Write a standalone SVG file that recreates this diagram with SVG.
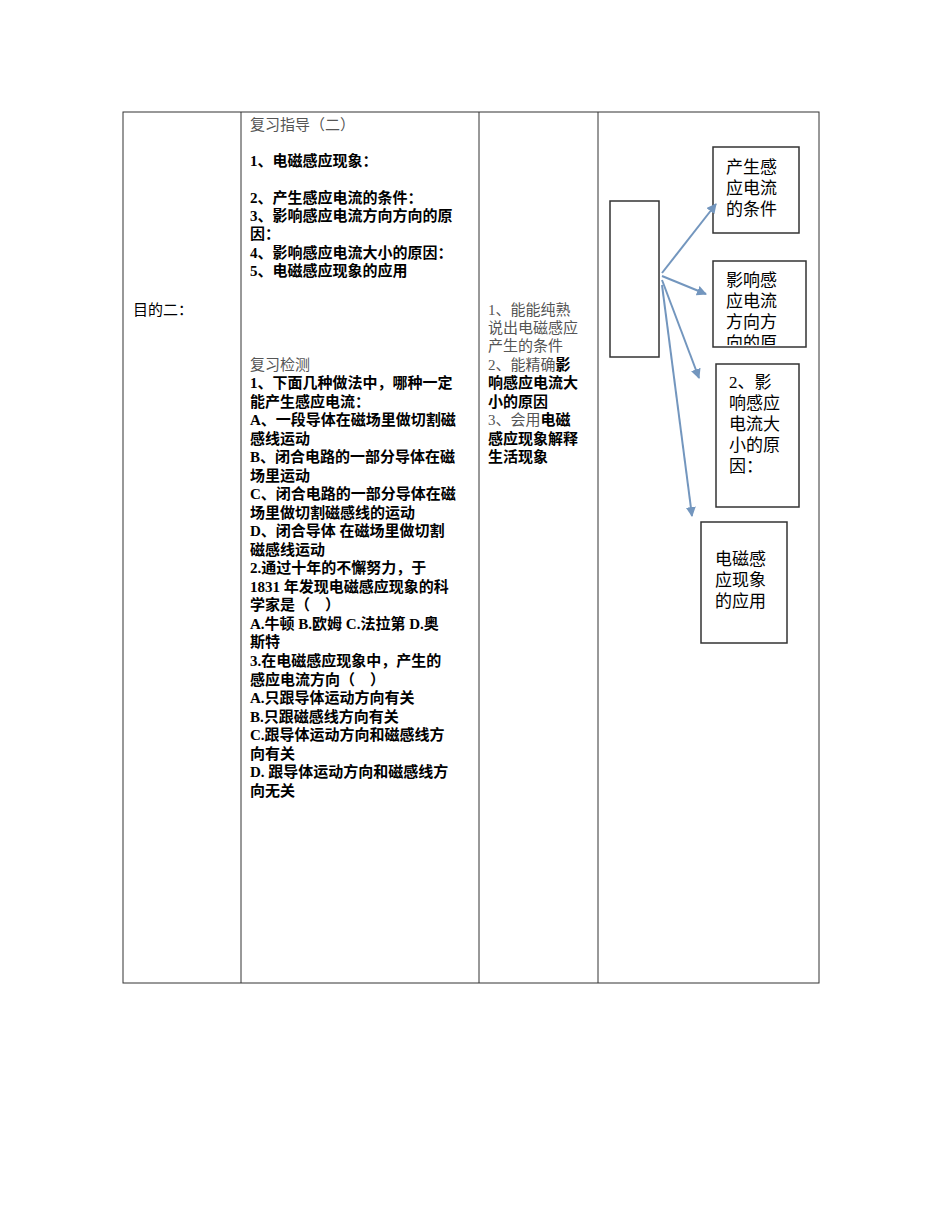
<svg xmlns="http://www.w3.org/2000/svg" width="950" height="1230" viewBox="0 0 950 1230">
<style>
text{font-family:"Liberation Serif","Noto Sans CJK SC",serif;font-size:15px;fill:#000;dominant-baseline:central}
.g{fill:#555}
.b{font-weight:bold}
.bx{fill:#fff;stroke:#333;stroke-width:1.5}
.ln{stroke:#333;stroke-width:1;fill:none}
.ar{stroke:#7396be;stroke-width:2;fill:none;marker-end:url(#a)}
</style>
<defs>
<marker id="a" viewBox="0 0 10 10" refX="9" refY="5" markerWidth="5" markerHeight="5" orient="auto"><path d="M0,0 L10,5 L0,10 z" fill="#7396be"/></marker>
<clipPath id="c2"><rect x="713" y="261" width="93" height="84"/></clipPath>
</defs>
<g id="table">
<rect class="ln" x="123" y="112" width="696" height="871"/>
<line class="ln" x1="241" y1="112" x2="241" y2="983"/>
<line class="ln" x1="479" y1="112" x2="479" y2="983"/>
<line class="ln" x1="598" y1="112" x2="598" y2="983"/>
</g>
<g id="col1"><text x="133" y="310">目的二：</text></g>
<g id="col2">
<text x="250" y="125" class="g">复习指导（二）</text>
<text x="250" y="161" class="b">1、电磁感应现象：</text>
<text x="250" y="198" class="b">2、产生感应电流的条件：</text>
<text x="250" y="216" class="b">3、影响感应电流方向方向的原</text>
<text x="250" y="234" class="b">因：</text>
<text x="250" y="253" class="b">4、影响感应电流大小的原因：</text>
<text x="250" y="271" class="b">5、电磁感应现象的应用</text>
<text x="250" y="365" class="g">复习检测</text>
<text x="250" y="383" class="b">1、下面几种做法中，哪种一定</text>
<text x="250" y="402" class="b">能产生感应电流：</text>
<text x="250" y="420" class="b">A、一段导体在磁场里做切割磁</text>
<text x="250" y="439" class="b">感线运动</text>
<text x="250" y="457" class="b">B、闭合电路的一部分导体在磁</text>
<text x="250" y="476" class="b">场里运动</text>
<text x="250" y="494" class="b">C、闭合电路的一部分导体在磁</text>
<text x="250" y="513" class="b">场里做切割磁感线的运动</text>
<text x="250" y="531" class="b">D、闭合导体 在磁场里做切割</text>
<text x="250" y="550" class="b">磁感线运动</text>
<text x="250" y="568" class="b">2.通过十年的不懈努力，于</text>
<text x="250" y="587" class="b">1831 年发现电磁感应现象的科</text>
<text x="250" y="605" class="b">学家是（　）</text>
<text x="250" y="624" class="b">A.牛顿 B.欧姆 C.法拉第 D.奥</text>
<text x="250" y="642" class="b">斯特</text>
<text x="250" y="661" class="b">3.在电磁感应现象中，产生的</text>
<text x="250" y="680" class="b">感应电流方向（　）</text>
<text x="250" y="698" class="b">A.只跟导体运动方向有关</text>
<text x="250" y="717" class="b">B.只跟磁感线方向有关</text>
<text x="250" y="735" class="b">C.跟导体运动方向和磁感线方</text>
<text x="250" y="754" class="b">向有关</text>
<text x="250" y="772" class="b">D. 跟导体运动方向和磁感线方</text>
<text x="250" y="791" class="b">向无关</text>
</g>
<g id="col3">
<text x="488" y="310" class="g">1、能能纯熟</text>
<text x="488" y="328" class="g">说出电磁感应</text>
<text x="488" y="346" class="g">产生的条件</text>
<text x="488" y="365"><tspan class="g">2、能精确</tspan><tspan class="b">影</tspan></text>
<text x="488" y="383" class="b">响感应电流大</text>
<text x="488" y="402" class="b">小的原因</text>
<text x="488" y="420"><tspan class="g">3、会用</tspan><tspan class="b">电磁</tspan></text>
<text x="488" y="439" class="b">感应现象解释</text>
<text x="488" y="457" class="b">生活现象</text>
</g>
<g id="n0"><rect class="bx" x="610" y="201" width="49" height="156"/></g>
<g id="n1"><rect class="bx" x="713" y="147" width="86" height="86"/>
<text x="726" y="167" style="font-size:17px">产生感</text><text x="726" y="188" style="font-size:17px">应电流</text><text x="726" y="209" style="font-size:17px">的条件</text></g>
<g id="n2"><rect class="bx" x="713" y="261" width="93" height="86"/>
<g clip-path="url(#c2)"><text x="726" y="280" style="font-size:17px">影响感</text><text x="726" y="301" style="font-size:17px">应电流</text><text x="726" y="322" style="font-size:17px">方向方</text><text x="726" y="343" style="font-size:17px">向的原</text></g></g>
<g id="n3"><rect class="bx" x="716" y="364" width="83" height="143"/>
<text x="729" y="382" style="font-size:17px">2、影</text><text x="729" y="403" style="font-size:17px">响感应</text><text x="729" y="424" style="font-size:17px">电流大</text><text x="729" y="445" style="font-size:17px">小的原</text><text x="729" y="466" style="font-size:17px">因：</text></g>
<g id="n4"><rect class="bx" x="701" y="522" width="86" height="121"/>
<text x="715" y="559" style="font-size:17px">电磁感</text><text x="715" y="580" style="font-size:17px">应现象</text><text x="715" y="601" style="font-size:17px">的应用</text></g>
<g id="connectors">
<line class="ar" x1="662" y1="273" x2="716" y2="204"/>
<line class="ar" x1="662" y1="276" x2="706" y2="294"/>
<line class="ar" x1="662" y1="280" x2="699" y2="378"/>
<line class="ar" x1="662" y1="285" x2="692" y2="516"/>
</g>
</svg>
